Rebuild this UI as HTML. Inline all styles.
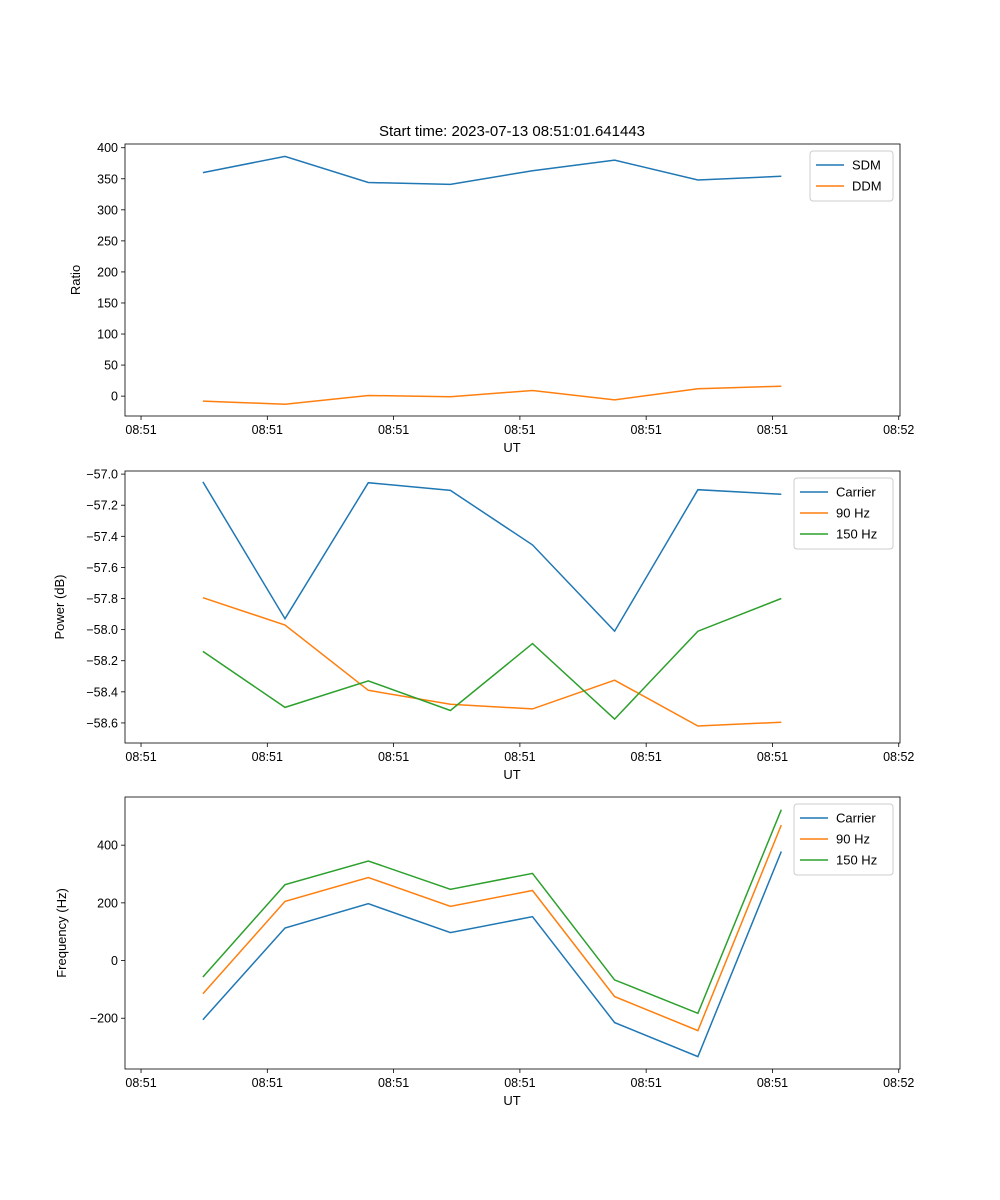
<!DOCTYPE html>
<html><head><meta charset="utf-8"><style>
body{margin:0;background:#fff;}
svg{display:block;font-family:"Liberation Sans","DejaVu Sans",sans-serif;}
</style></head><body>
<svg id="fig" width="1000" height="1200" viewBox="0 0 1000 1200">
<text x="512" y="136" font-size="15" text-anchor="middle">Start time: 2023-07-13 08:51:01.641443</text>
</svg>
<script>
const xTimes=[0.49,1.14,1.80,2.45,3.10,3.75,4.41,5.07];
const xTickVals=[0,1,2,3,4,5,6];
const xTickLabels=["08:51","08:51","08:51","08:51","08:51","08:51","08:52"];
const sdm=[360,386,344,341,363,380,348,354];
const ddm=[-8,-13,1,-1,9,-6,12,16];
const ratioTicks=[0,50,100,150,200,250,300,350,400];
const powCarrier=[-57.05,-57.93,-57.055,-57.105,-57.455,-58.01,-57.10,-57.13];
const pow90=[-57.795,-57.97,-58.39,-58.48,-58.51,-58.325,-58.62,-58.595];
const pow150=[-58.14,-58.50,-58.33,-58.52,-58.09,-58.575,-58.01,-57.80];
const powTicks=[-58.6,-58.4,-58.2,-58.0,-57.8,-57.6,-57.4,-57.2,-57.0];
const freqCarrier=[-205,113,197,97,152,-215,-333,378];
const freq90=[-115,205,288,188,243,-125,-243,470];
const freq150=[-57,263,345,247,302,-67,-183,523];
const freqTicks=[-200,0,200,400];
const C=["#1f77b4","#ff7f0e","#2ca02c"];
const NS="http://www.w3.org/2000/svg";
const svg=document.getElementById('fig');
function mk(tag,attrs,parent){const e=document.createElementNS(NS,tag);for(const k in attrs)e.setAttribute(k,attrs[k]);(parent||svg).appendChild(e);return e;}
function panel(o){
 const g=mk('g',{});
 
 
 const L=125,R=900,T=o.top,B=o.top+272;
 const xs=v=>L+(v-(-0.127))/(6.01-(-0.127))*(R-L);
 const ys=v=>B-(v-o.ymin)/(o.ymax-o.ymin)*(B-T);
 o.series.forEach((s,i)=>{
  const p=mk('polyline',{points:s.vals.map((v,j)=>xs(xTimes[j]).toFixed(1)+','+ys(v).toFixed(1)).join(' '),fill:'none',stroke:C[i],'stroke-width':1.5},g);
  
  
 });
 const fr=mk('rect',{x:L,y:T,width:R-L,height:B-T,fill:'none',stroke:'#000','stroke-width':0.8},g);
 
 
 xTickVals.forEach((v,i)=>{const x=xs(v);mk('line',{x1:x,x2:x,y1:B,y2:B+4,stroke:'#000','stroke-width':0.8},g);
  const t=mk('text',{x:x,y:B+18,'font-size':12.5,'text-anchor':'middle'},g);t.textContent=xTickLabels[i];
  
  });
 o.ticks.forEach(v=>{const y=ys(v);mk('line',{x1:L-4,x2:L,y1:y,y2:y,stroke:'#000','stroke-width':0.8},g);
  const t=mk('text',{x:L-7,y:y+4.5,'font-size':12.5,'text-anchor':'end'},g);t.textContent=o.fmt(v).replace('-','\u2212');
  
  });
 const xl=mk('text',{x:512,y:B+36,'font-size':13,'text-anchor':'middle'},g);xl.textContent='UT';
 
 
 const yl=mk('text',{x:0,y:0,'font-size':13,'text-anchor':'middle',transform:`translate(${o.ylx},${(T+B)/2}) rotate(-90)`},g);yl.textContent=o.ylabel;
 
 
 const lw=o.lw,lx=R-7-lw,ly=T+7,lh=8+o.series.length*21;
 const lg=mk('g',{},g);
 
 
 mk('rect',{x:lx,y:ly,width:lw,height:lh,rx:3,fill:'#fff','fill-opacity':0.8,stroke:'#ccc'},lg);
 o.series.forEach((s,i)=>{const yy=ly+14+i*21;
  mk('line',{x1:lx+6,x2:lx+34,y1:yy,y2:yy,stroke:C[i],'stroke-width':1.5},lg);
  const t=mk('text',{x:lx+42,y:yy+4.5,'font-size':13},lg);t.textContent=s.label;
  
  });
}
panel({name:'ratio-panel',top:144,ymin:-32,ymax:406,ticks:ratioTicks,fmt:v=>String(v),ylabel:'Ratio',ylx:80,lw:83,
 series:[{key:'sdm',label:'SDM',vals:sdm},{key:'ddm',label:'DDM',vals:ddm}]});
panel({name:'power-panel',top:471,ymin:-58.729,ymax:-56.98,ticks:powTicks,fmt:v=>v.toFixed(1),ylabel:'Power (dB)',ylx:64,lw:99,
 series:[{key:'carrier',label:'Carrier',vals:powCarrier},{key:'90hz',label:'90 Hz',vals:pow90},{key:'150hz',label:'150 Hz',vals:pow150}]});
panel({name:'frequency-panel',top:797,ymin:-376,ymax:567,ticks:freqTicks,fmt:v=>String(v),ylabel:'Frequency (Hz)',ylx:66,lw:99,
 series:[{key:'carrier',label:'Carrier',vals:freqCarrier},{key:'90hz',label:'90 Hz',vals:freq90},{key:'150hz',label:'150 Hz',vals:freq150}]});
</script>
</body></html>
